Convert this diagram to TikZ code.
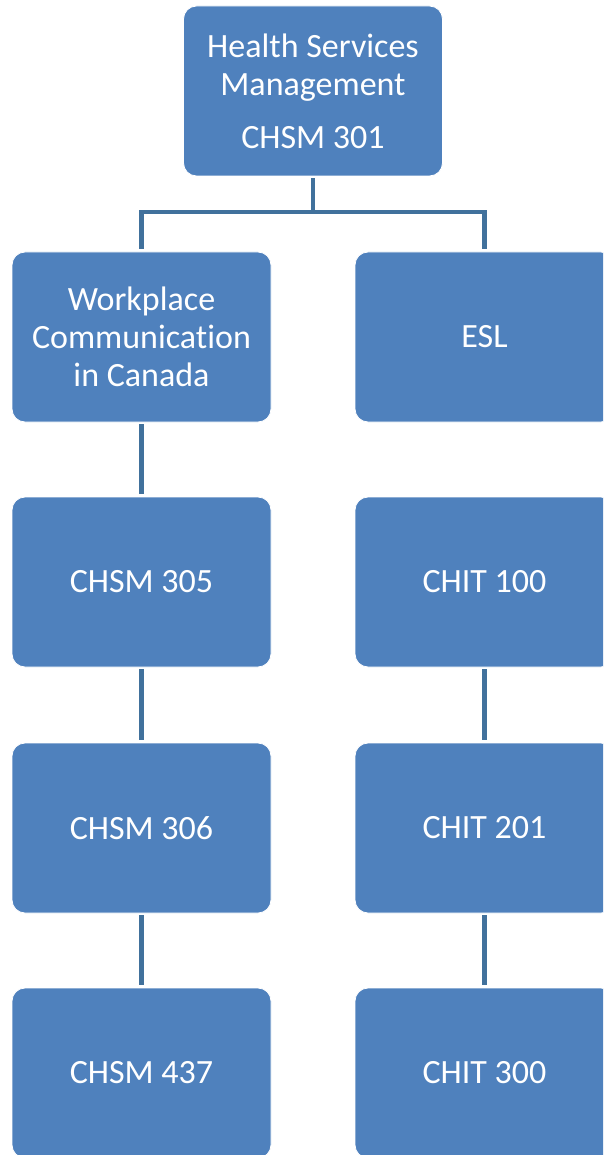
\documentclass[tikz,border=0pt]{standalone}
\usepackage{fontspec}
\setmainfont{Carlito}[Ligatures={NoCommon}]
\definecolor{boxblue}{HTML}{4F81BD}
\definecolor{linkblue}{HTML}{41719C}
\begin{document}
\begin{tikzpicture}[x=1pt,y=-1pt,
  course/.style={rectangle, rounded corners=13pt, fill=boxblue, draw=white, line width=0.8pt,
    minimum width=259pt, minimum height=170pt, inner sep=0pt, text=white, align=center,
    font=\fontsize{34}{38}\selectfont},
  link/.style={draw=linkblue, line width=4.5pt, shorten <=2pt, shorten >=3pt}]
  \useasboundingbox (0,0) rectangle (603,1155);
  \clip (0,0) rectangle (603,1155);

  % top course
  \node[course] (hsm) at (313,91) {Health Services\\Management\\[15pt]CHSM 301};

  % left column
  \node[course] (wcc) at (141.5,337) {Workplace\\Communication\\in Canada};
  \node[course] (c305) at (141.5,582) {CHSM 305};
  \node[course] (c306) at (141.5,828) {CHSM 306};
  \node[course] (c437) at (141.5,1073) {CHSM 437};

  % right column
  \node[course] (esl) at (484.5,337) {ESL};
  \node[course] (t100) at (484.5,582) {CHIT 100};
  \node[course] (t201) at (484.5,828) {CHIT 201};
  \node[course] (t300) at (484.5,1073) {CHIT 300};

  % branching connector
  \coordinate (bus) at (313,212);
  \draw[link, shorten >=0pt] (hsm) -- (bus);
  \draw[link, shorten <=0pt, line join=miter] (bus) -| (wcc);
  \draw[link, shorten <=0pt, line join=miter] (bus) -| (esl);

  % column chains
  \draw[link] (wcc) -- (c305);
  \draw[link] (c305) -- (c306);
  \draw[link] (c306) -- (c437);
  \draw[link] (t100) -- (t201);
  \draw[link] (t201) -- (t300);
\end{tikzpicture}
\end{document}
